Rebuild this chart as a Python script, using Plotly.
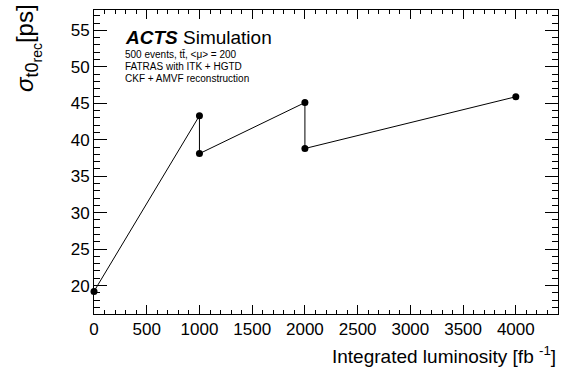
import plotly.graph_objects as go

# Luminosity scan: vertex time resolution vs integrated luminosity
lumi = [0, 1000, 1000, 2000, 2000, 4000]
sigma_t0 = [19.2, 43.3, 38.1, 45.1, 38.8, 45.9]

x_range = [0, 4400]
y_range = [16.1, 57.8]

FONT = "Liberation Sans, Arial, Helvetica, sans-serif"

fig = go.Figure()
fig.add_trace(go.Scatter(
    x=lumi, y=sigma_t0,
    mode="lines+markers",
    line=dict(color="black", width=1),
    marker=dict(color="black", size=7),
    cliponaxis=False,
    showlegend=False,
))

axis_common = dict(
    showgrid=False, zeroline=False,
    showline=True, linecolor="black", linewidth=1,
    mirror="allticks", ticks="inside", tickcolor="black", tickwidth=1,
    tickfont=dict(family=FONT, size=17, color="black"),
)

fig.update_xaxes(
    range=x_range, dtick=500, tick0=0, ticklen=9,
    minor=dict(dtick=100, ticklen=4, ticks="inside", tickcolor="black"),
    **axis_common,
)
fig.update_yaxes(
    range=y_range, dtick=5, tick0=0, ticklen=13,
    minor=dict(dtick=1, ticklen=6, ticks="inside", tickcolor="black"),
    **axis_common,
)

annotations = [
    dict(text="<b><i>ACTS</i></b> Simulation", x=123, y=38, font_size=19),
    dict(text="500 events, tt\u0304, &lt;\u03bc&gt; = 200", x=123, y=54, font_size=10),
    dict(text="FATRAS with ITK + HGTD", x=123, y=66, font_size=10),
    dict(text="CKF + AMVF reconstruction", x=123, y=78, font_size=10),
]
for a in annotations:
    fig.add_annotation(
        text=a["text"], xref="paper", yref="paper",
        x=(a["x"] - 94) / 464, y=1 - (a["y"] - 10) / 304,
        xanchor="left", yanchor="middle", showarrow=False,
        font=dict(family=FONT, size=a["font_size"], color="black"),
    )

# Axis titles, placed ROOT-style at the far ends of the axes
fig.add_annotation(
    text="Integrated luminosity [fb <sup>-1</sup>]",
    xref="paper", yref="paper", x=1, y=0, xanchor="right", yanchor="middle",
    yshift=-41, showarrow=False,
    font=dict(family=FONT, size=19, color="black"),
)
fig.add_annotation(
    text=("<i>\u03c3</i><sub><span style='font-size:18px'>t0"
          "<sub><span style='font-size:14px'>rec</span></sub></span></sub>[ps]"),
    xref="paper", yref="paper", x=0, y=1, xanchor="center", yanchor="top",
    xshift=-66, yshift=8, textangle=-90, showarrow=False,
    font=dict(family=FONT, size=24, color="black"),
)

fig.update_layout(
    width=562, height=368,
    margin=dict(l=94, r=4, t=10, b=54),
    paper_bgcolor="white", plot_bgcolor="white",
)

fig.write_html("out.html")
